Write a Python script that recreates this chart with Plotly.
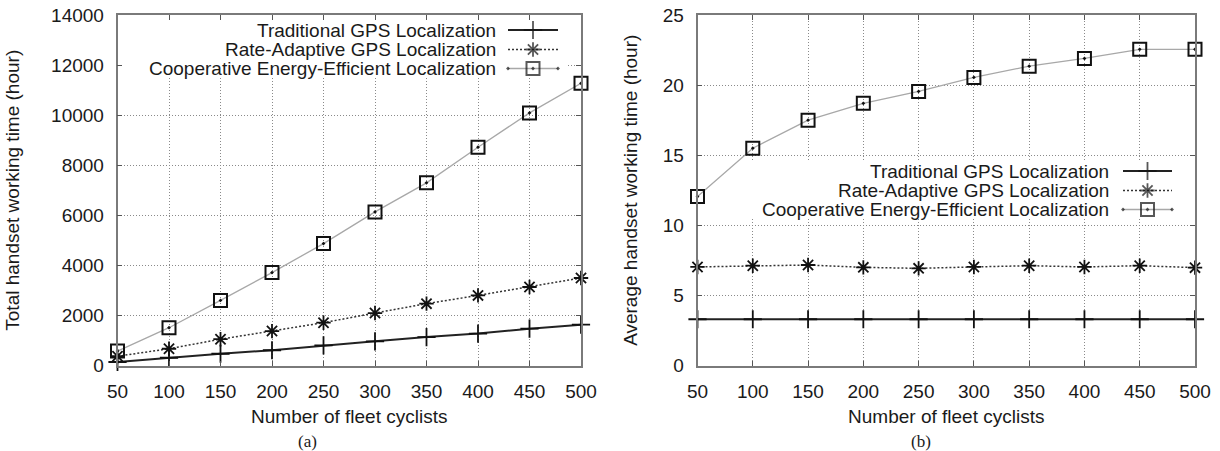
import plotly.graph_objects as go

# ---- data -------------------------------------------------------------
fleet_sizes = [50, 100, 150, 200, 250, 300, 350, 400, 450, 500]

total_traditional = [140, 310, 470, 610, 800, 965, 1135, 1275, 1470, 1630]
total_rate_adaptive = [370, 670, 1050, 1375, 1710, 2095, 2470, 2800, 3135, 3495]
total_cooperative = [575, 1510, 2600, 3710, 4870, 6135, 7295, 8720, 10090, 11270]

avg_traditional = [3.3, 3.3, 3.3, 3.3, 3.3, 3.3, 3.3, 3.3, 3.3, 3.3]
avg_rate_adaptive = [7.03, 7.12, 7.17, 7.0, 6.93, 7.03, 7.12, 7.03, 7.12, 6.98]
avg_cooperative = [12.05, 15.5, 17.5, 18.7, 19.55, 20.55, 21.35, 21.9, 22.55, 22.55]

series_names = [
    "Traditional GPS Localization",
    "Rate-Adaptive GPS Localization",
    "Cooperative Energy-Efficient Localization",
]
x_ticks = fleet_sizes
y_ticks_total = [0, 2000, 4000, 6000, 8000, 10000, 12000, 14000]
y_ticks_avg = [0, 5, 10, 15, 20, 25]

# ---- geometry (pixels) -----------------------------------------------
W, H = 1220, 451
FONT = "Liberation Sans, Arial, Helvetica, sans-serif"
TXT = "#1a1a1a"
FS = 19

panel_left = (117.5, 581.0)
panel_right = (697.5, 1195.0)
plot_top, plot_bottom = 15.0, 365.5
x_range = [50, 500]
y_range_total = [0, 14000]
y_range_avg = [0, 25]


def xdom(px):
    return [px[0] / W, px[1] / W]


ydom = [1 - plot_bottom / H, 1 - plot_top / H]

# series styles: line, marker
styles = [
    dict(line=dict(color="#222222", width=2.0),
         marker=dict(symbol="cross-thin", size=13, line=dict(color="#111111", width=1.8))),
    dict(line=dict(color="#333333", width=1.5, dash="2px,2px"),
         marker=dict(symbol="asterisk", size=12, line=dict(color="#111111", width=1.8))),
    dict(line=dict(color="#a8a8a8", width=1.3),
         marker=dict(symbol="square-open-dot", size=13, color="#111111",
                     line=dict(color="#111111", width=2.0))),
]

fig = go.Figure()

panels = [
    ("x", "y", [total_traditional, total_rate_adaptive, total_cooperative]),
    ("x2", "y2", [avg_traditional, avg_rate_adaptive, avg_cooperative]),
]
for xa, ya, values in panels:
    for name, vals, st in zip(series_names, values, styles):
        fig.add_trace(go.Scatter(
            x=fleet_sizes, y=vals, name=name, mode="lines+markers",
            line=st["line"], marker=st["marker"], xaxis=xa, yaxis=ya,
            cliponaxis=False, showlegend=False,
        ))

# ---- gnuplot-style keys (text right-aligned, sample on the right) ---------
keys = [
    dict(text_right=497, rows=[30, 49.5, 68.5], sample=(508, 558),
         box=(123, 18, 567, 78), xref="x", yref="y", panel=panel_left,
         yr=y_range_total),
    dict(text_right=1110, rows=[171, 190.5, 209.5], sample=(1123, 1172),
         box=(738, 162, 1181, 218), xref="x2", yref="y2", panel=panel_right,
         yr=y_range_avg),
]


def px_to_x(px, panel):
    return x_range[0] + (px - panel[0]) / (panel[1] - panel[0]) * (x_range[1] - x_range[0])


def px_to_y(py, yr):
    return yr[0] + (plot_bottom - py) / (plot_bottom - plot_top) * (yr[1] - yr[0])


for k in keys:
    bx0, by0, bx1, by1 = k["box"]
    # white key background hides the grid beneath it
    fig.add_shape(
        type="rect", xref=k["xref"], yref=k["yref"], layer="between",
        x0=px_to_x(bx0, k["panel"]), x1=px_to_x(bx1, k["panel"]),
        y0=px_to_y(by1, k["yr"]), y1=px_to_y(by0, k["yr"]),
        fillcolor="white", line=dict(width=0),
    )
    s0, s1 = k["sample"]
    for name, row, st in zip(series_names, k["rows"], styles):
        fig.add_annotation(
            x=k["text_right"], y=row, xref="x3", yref="y3", text=name,
            showarrow=False, xanchor="right", yanchor="middle", borderpad=0,
            font=dict(family=FONT, size=FS, color=TXT),
        )
        mk = dict(st["marker"])
        mk["size"] = [0, st["marker"]["size"], 0]
        fig.add_trace(go.Scatter(
            x=[s0, (s0 + s1) / 2, s1], y=[row, row, row], mode="lines+markers",
            line=st["line"], marker=mk, xaxis="x3", yaxis="y3",
            showlegend=False, hoverinfo="skip", cliponaxis=False,
        ))

# panel captions
for label, cx in (("(a)", 307), ("(b)", 921)):
    fig.add_annotation(
        x=cx, y=441, xref="x3", yref="y3", text=label, showarrow=False,
        xanchor="center", yanchor="middle",
        font=dict(family="Liberation Serif, Times New Roman, serif", size=17, color=TXT),
    )

axis_common = dict(
    showline=True, mirror="allticks", linecolor="#7a7a7a", linewidth=1.5,
    ticks="inside", ticklen=5, tickwidth=1, tickcolor="#555555",
    showgrid=True, gridcolor="#8a8a8a", gridwidth=1, griddash="1px,2px",
    zeroline=False, tickfont=dict(family=FONT, size=FS, color=TXT),
    ticklabelstandoff=8, tickformat="d", automargin=False,
)
title_font = dict(family=FONT, size=FS, color=TXT)

fig.update_layout(
    width=W, height=H, margin=dict(l=0, r=0, t=0, b=0, autoexpand=False),
    paper_bgcolor="white", plot_bgcolor="rgba(0,0,0,0)",
    showlegend=False,
    xaxis=dict(axis_common, domain=xdom(panel_left), range=x_range,
               tickvals=x_ticks, anchor="y",
               title=dict(text="Number of fleet cyclists", standoff=9, font=title_font)),
    yaxis=dict(axis_common, domain=ydom, range=y_range_total,
               tickvals=y_ticks_total, anchor="x",
               title=dict(text="Total handset working time (hour)", standoff=26,
                          font=title_font)),
    xaxis2=dict(axis_common, domain=xdom(panel_right), range=x_range,
                tickvals=x_ticks, anchor="y2",
                title=dict(text="Number of fleet cyclists", standoff=9, font=title_font)),
    yaxis2=dict(axis_common, domain=ydom, range=y_range_avg,
                tickvals=y_ticks_avg, anchor="x2",
                title=dict(text="Average handset working time (hour)", standoff=20,
                           font=title_font)),
    # full-canvas pixel frame used for the keys and captions
    xaxis3=dict(domain=[0, 1], range=[0, W], visible=False, anchor="y3",
                fixedrange=True, automargin=False),
    yaxis3=dict(domain=[0, 1], range=[H, 0], visible=False, anchor="x3",
                fixedrange=True, automargin=False),
)

fig.write_html("out.html")
